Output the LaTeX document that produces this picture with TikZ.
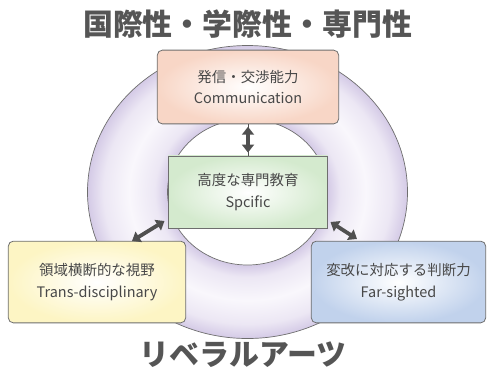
\documentclass[tikz,border=0pt]{standalone}
\usepackage{fontspec}
\setmainfont{Noto Sans CJK JP}
\usetikzlibrary{arrows.meta,calc}
\definecolor{lavE}{RGB}{212,202,230}
\definecolor{lavM}{RGB}{236,231,244}
\definecolor{lavL}{RGB}{249,247,252}
\definecolor{peach}{RGB}{248,214,198}
\definecolor{mint}{RGB}{212,234,206}
\definecolor{butter}{RGB}{253,245,196}
\definecolor{sky}{RGB}{193,210,236}
\definecolor{txtgray}{RGB}{72,72,72}
\definecolor{titlegray}{RGB}{85,85,85}
\definecolor{edgegray}{RGB}{110,110,110}
\definecolor{arrowgray}{RGB}{80,80,80}
\pgfdeclareradialshading{ringshade}{\pgfpoint{0bp}{0bp}}{color(0bp)=(white); color(12.2bp)=(white); color(12.5bp)=(lavE); color(14.5bp)=(lavM); color(18.5bp)=(lavL); color(22.5bp)=(lavM); color(25bp)=(lavE); color(50bp)=(lavE)}
\tikzset{
  box/.style={draw=edgegray, line width=0.8pt, shade, inner color=white, align=center, text=txtgray,
    font=\fontsize{14.5}{22}\selectfont, inner sep=0pt},
  dbl/.style={draw=arrowgray, line width=3.8pt, {Triangle[length=8pt,width=12pt]}-{Triangle[length=8pt,width=12pt]}},
  thinline/.style={draw=arrowgray, line width=0.7pt},
  title/.style={text=titlegray, font=\fontsize{30}{33}\selectfont\bfseries}
}
\begin{document}
\begin{tikzpicture}[x=1bp,y=-1bp]
\useasboundingbox (0,0) rectangle (487,372);
% ring
\coordinate (c) at (247.5,192);
\shade[shading=ringshade, even odd rule] (c) ellipse [x radius=160, y radius=146.5] (c) ellipse [x radius=80, y radius=73];
\draw[edgegray, line width=0.7pt] (c) ellipse [x radius=160, y radius=146.5];
\draw[edgegray, line width=0.7pt] (c) ellipse [x radius=80, y radius=73];
% titles
\node[title] (t1) at (247.5,24.5) {国際性・学際性・専門性};
\node[title] (t2) at (243,355) {リベラルアーツ};
% boxes
\node[box, rounded corners=5pt, outer color=peach, minimum width=182, minimum height=74] (comm) at (248,87) {発信・交渉能力\\Communication};
\node[box, outer color=mint, minimum width=160, minimum height=73] (spec) at (248,192.3) {高度な専門教育\\Spcific};
\node[box, rounded corners=5pt, outer color=butter, minimum width=178, minimum height=82] (trans) at (97,282) {領域横断的な視野\\Trans-disciplinary};
\node[box, rounded corners=5pt, outer color=sky, minimum width=175, minimum height=82] (far) at (398.5,282) {変改に対応する判断力\\Far-sighted};
% arrows
\draw[thinline] (comm.south) -- (spec.north);
\draw[dbl] ($(comm.south)+(0,2.5)$) coordinate (ta) -- ($(spec.north)+(0,-3)$) coordinate (tb);
\coordinate (la) at (132,241);
\coordinate (lb) at (164.5,221);
\draw[dbl] (la) -- (lb);
\coordinate (ra) at (330.5,222);
\coordinate (rb) at (357,239);
\draw[dbl] (ra) -- (rb);
\end{tikzpicture}
\end{document}
